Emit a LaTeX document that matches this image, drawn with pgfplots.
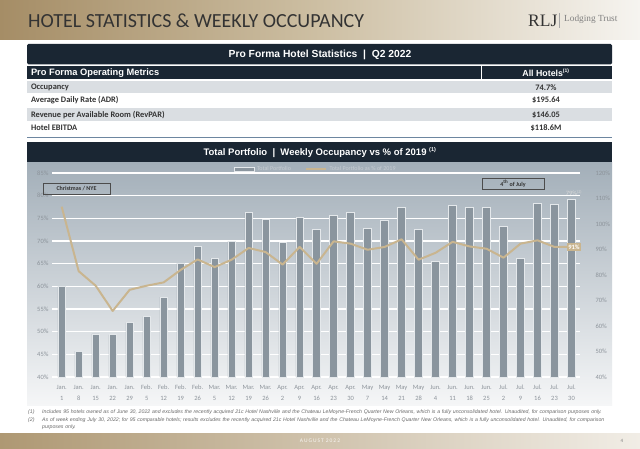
\documentclass[border=0pt]{standalone}
\usepackage{pgfplots}
\pgfplotsset{compat=1.18}
\usepackage{fontspec}
\setmainfont{Carlito}
\newfontfamily\arial{Liberation Sans}
\newfontfamily\tnr{Liberation Serif}
\newfontfamily\spaced[LetterSpace=18]{Carlito}
\definecolor{navy}{HTML}{1A2633}
\definecolor{rowgrey}{HTML}{DADEE2}
\definecolor{tableline}{HTML}{6D86A0}
\definecolor{panelTop}{HTML}{A3AFB9}
\definecolor{panelBot}{HTML}{F5F6F7}
\definecolor{barcol}{HTML}{8A959E}
\definecolor{barEdge}{HTML}{E4E8EB}
\definecolor{tanline}{HTML}{C9B58F}
\definecolor{tickgrey}{HTML}{8C939A}
\definecolor{legtext}{HTML}{C6CCD2}
\definecolor{hdrL}{HTML}{A58D66}
\definecolor{hdrM}{HTML}{CDBFA3}
\definecolor{hdrR}{HTML}{F6F4F0}
\definecolor{ftL}{HTML}{AE9873}
\definecolor{ftR}{HTML}{F1EDE6}
\definecolor{darktext}{HTML}{333333}
\definecolor{footgrey}{HTML}{6A6A6A}
\begin{document}
\begin{tikzpicture}[x=1pt,y=1pt]
\useasboundingbox (0,0) rectangle (640,448);
\fill[white] (0,0) rectangle (640,448);
\begin{scope}[yshift=448pt, y=-1pt]
  % header band
  \shade[left color=hdrL, right color=hdrR, middle color=hdrM] (0,0) rectangle (640,40);
  \node[anchor=west, inner sep=0, font=\fontsize{20}{21}\selectfont, text=darktext] at (28,20.5) {HOTEL STATISTICS \& WEEKLY OCCUPANCY};
  \node[anchor=west, inner sep=0, font=\tnr\fontsize{17.5}{18}\selectfont, text=darktext] at (528,20.5) {RLJ};
  \draw[gray!70, line width=0.4pt] (559,13) -- (559,28);
  \node[anchor=west, inner sep=0, font=\tnr\fontsize{9.3}{10}\selectfont, text=gray] at (564,19.5) {Lodging Trust};
  % table
  \fill[navy, rounded corners=1.5pt] (27,44) rectangle (612,64.5);
  \node[text=white, font=\arial\bfseries\fontsize{10.3}{11}\selectfont] at (320,54.5) {Pro Forma Hotel Statistics \ | \ Q2 2022};
  \fill[navy] (27,66) rectangle (612,79.5);
  \draw[white, line width=1pt] (481,66) -- (481,79.5);
  \node[anchor=west, text=white, font=\arial\bfseries\fontsize{9.3}{10}\selectfont] at (27.5,73) {Pro Forma Operating Metrics};
  \node[text=white, font=\arial\bfseries\fontsize{8.8}{9}\selectfont] at (546,73) {All Hotels\textsuperscript{\fontsize{5}{5}\selectfont(1)}};
  \fill[rowgrey] (27,81) rectangle (612,93.5);
  \fill[rowgrey] (27,108) rectangle (612,121.5);
  \begin{scope}[every node/.style={font=\bfseries\fontsize{8.4}{9}\selectfont, text=darktext}]
    \node[anchor=west] at (27.5,87.2) {Occupancy};
    \node[anchor=west] at (27.5,100.5) {Average Daily Rate (ADR)};
    \node[anchor=west] at (27.5,114.6) {Revenue per Available Room (RevPAR)};
    \node[anchor=west] at (27.5,128) {Hotel EBITDA};
    \node at (546,87.2) {74.7\%};
    \node at (546,100.5) {\$195.64};
    \node at (546,114.6) {\$146.05};
    \node at (546,128) {\$118.6M};
  \end{scope}
  \draw[tableline, line width=1.3pt] (27,137.5) -- (612,137.5);
  % chart panel
  \fill[navy] (27,142) rectangle (612,163);
  \node[text=white, font=\arial\bfseries\fontsize{9.5}{10}\selectfont] at (320,152.5) {Total Portfolio \ | \ Weekly Occupancy vs \% of 2019 \textsuperscript{\fontsize{5.5}{6}\selectfont(1)}};
  \shade[top color=panelTop, bottom color=panelBot] (27,163) rectangle (612,405);
  % footnotes
  \begin{scope}[every node/.style={font=\arial\itshape\fontsize{5.2}{7.2}\selectfont, text=footgrey, inner sep=0, anchor=north west}]
    \node at (28,410) {(1)};
    \node[text width=570pt, align=left] at (42,410) {Includes 95 hotels owned as of June 30, 2022 and excludes the recently acquired 21c Hotel Nashville and the Chateau LeMoyne-French Quarter New Orleans, which is a fully unconsolidated hotel. Unaudited, for comparison purposes only.};
    \node at (28,417.2) {(2)};
    \node[text width=570pt, align=left] at (42,417.2) {As of week ending July 30, 2022; for 95 comparable hotels; results excludes the recently acquired 21c Hotel Nashville and the Chateau LeMoyne-French Quarter New Orleans, which is a fully unconsolidated hotel. Unaudited, for comparison purposes only.};
  \end{scope}
  % bottom band
  \shade[left color=ftL, right color=ftR] (0,433) rectangle (640,448);
  \node[font=\spaced\fontsize{5.5}{6}\selectfont, text=white!92!hdrL] at (320,440.5) {AUGUST 2022};
  \node[font=\fontsize{5}{6}\selectfont, text=gray] at (622,440.5) {4};
\end{scope}

\begin{axis}[
  at={(52pt,71pt)}, anchor=south west,
  scale only axis, width=528pt, height=204pt,
  xmin=-0.57, xmax=30.5, ymin=40, ymax=85,
  axis line style={draw=none}, major tick length=0pt,
  ytick={40,45,...,85},
  /pgf/number format/assume math mode=true,
  yticklabel={\pgfmathprintnumber{\tick}\%},
  yticklabel style={font=\fontsize{6.5}{7}\selectfont, text=tickgrey},
  ymajorgrids, grid style={white, line width=1.1pt},
  xtick={0,...,30},
  xticklabels={{Jan.\\1},{Jan.\\8},{Jan.\\15},{Jan.\\22},{Jan.\\29},{Feb.\\5},{Feb.\\12},{Feb.\\19},{Feb.\\26},{Mar.\\5},{Mar.\\12},{Mar.\\19},{Mar.\\26},{Apr.\\2},{Apr.\\9},{Apr.\\16},{Apr.\\23},{Apr.\\30},{May\\7},{May\\14},{May\\21},{May\\28},{Jun.\\4},{Jun.\\11},{Jun.\\18},{Jun.\\25},{Jul.\\2},{Jul.\\9},{Jul.\\16},{Jul.\\23},{Jul.\\30}},
  xticklabel style={align=center, font=\fontsize{6.5}{11}\selectfont, text=tickgrey, yshift=-4.5pt},
  ybar, bar width=7.4pt,
  clip=false,
  legend columns=2,
  legend style={at={(0.5,1)}, anchor=center, yshift=4pt, draw=none, fill=none,
    font=\fontsize{6}{7}\selectfont, text=legtext,
    /tikz/every even column/.append style={column sep=12pt}},
]
\addplot[fill=barcol, draw=barEdge, line width=0.8pt,
  legend image code/.code={\draw[fill=barcol, draw=barEdge, line width=0.6pt] (0pt,-1.8pt) rectangle (20pt,1.8pt);}]
  coordinates {(0,60.0) (1,45.7) (2,49.5) (3,49.3) (4,52.0) (5,53.3) (6,57.6) (7,65.1) (8,68.7) (9,66.2) (10,69.9) (11,76.2) (12,74.7) (13,69.7) (14,75.1) (15,72.5) (16,75.7) (17,76.2) (18,72.7) (19,74.6) (20,77.5) (21,72.5) (22,65.5) (23,77.9) (24,77.4) (25,77.4) (26,73.2) (27,66.1) (28,78.2) (29,78.0) (30,79.1)};
\addlegendentry{Total Portfolio}
\addlegendimage{legend image code/.code={\draw[tanline, line width=2.5pt] (0pt,0pt) -- (20pt,0pt);}}
\addlegendentry{Total Portfolio as \% of 2019}
\node[anchor=south, inner sep=1.5pt, font=\fontsize{6.5}{7}\selectfont, text=white!85!black] at (axis cs:30,79.6) {79\%\rlap{\textsuperscript{\fontsize{4}{5}\selectfont(2)}}};
\end{axis}

\begin{axis}[
  at={(52pt,71pt)}, anchor=south west,
  scale only axis, width=528pt, height=204pt,
  xmin=-0.57, xmax=30.5, ymin=40, ymax=120,
  axis y line*=right, axis x line=none,
  axis line style={draw=none}, major tick length=0pt,
  ytick={40,50,...,120},
  /pgf/number format/assume math mode=true,
  yticklabel={\pgfmathprintnumber{\tick}\%},
  yticklabel style={font=\fontsize{6.5}{7}\selectfont, text=tickgrey, xshift=12pt},
  clip=false,
]
\addplot[tanline, line width=2pt, line join=round]
  coordinates {(0,106.8) (1,81.5) (2,75.8) (3,65.9) (4,74.2) (5,75.8) (6,77.1) (7,82.0) (8,86.1) (9,83.1) (10,86.0) (11,90.6) (12,89.0) (13,84.1) (14,91.0) (15,84.4) (16,93.2) (17,92.3) (18,89.9) (19,91.0) (20,94.0) (21,86.0) (22,88.7) (23,93.0) (24,91.2) (25,90.3) (26,86.8) (27,92.3) (28,93.6) (29,91.0) (30,91.0)};
\node[fill=tanline, text=white, font=\bfseries\fontsize{6.5}{7}\selectfont, inner sep=1.5pt] at (axis cs:30.15,91) {91\%};
\end{axis}

\begin{scope}[yshift=448pt, y=-1pt]
  \node[draw=black!70, line width=0.7pt, font=\bfseries\fontsize{6}{7}\selectfont, text=darktext, minimum width=67pt, minimum height=11pt, inner sep=1pt] at (76.5,188.5) {Christmas / NYE};
  \node[draw=black!70, line width=0.7pt, font=\bfseries\fontsize{6}{7}\selectfont, text=darktext, minimum width=62pt, minimum height=11pt, inner sep=1pt] at (513,183.5) {4\textsuperscript{th} of July};
\end{scope}
\end{tikzpicture}
\end{document}
